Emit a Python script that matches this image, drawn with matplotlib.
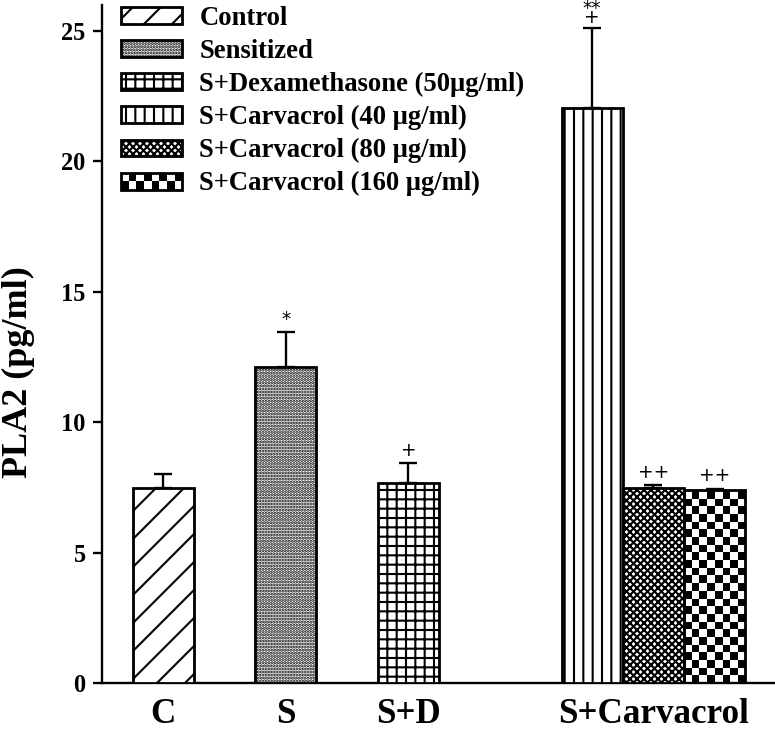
import numpy as np
import matplotlib
matplotlib.use("Agg")
import matplotlib.pyplot as plt
from matplotlib.patches import Rectangle
from matplotlib.legend_handler import HandlerPatch

# values
groups = ["Control", "Sensitized", "S+Dexamethasone (50\u03bcg/ml)",
          "S+Carvacrol (40 \u03bcg/ml)", "S+Carvacrol (80 \u03bcg/ml)",
          "S+Carvacrol (160 \u03bcg/ml)"]
means = [7.48, 12.13, 7.67, 22.06, 7.49, 7.40]
sems = [0.53, 1.32, 0.75, 3.04, 0.10, 0.05]
positions = [0, 2, 4, 7, 8, 9]
marks = ["", "*", "+", "**\n+", "++", "++"]
tick_pos = [0, 2, 4, 8]
tick_labels = ["C", "S", "S+D", "S+Carvacrol"]

hatches = ["//", ".........", "+++", "|||", "xxxxxxxx", None]

plt.rcParams["hatch.linewidth"] = 0.9
serif = "Liberation Serif"
DPI = 168


class HandlerChecker(HandlerPatch):
    def create_artists(self, legend, orig_handle, xdescent, ydescent,
                       width, height, fontsize, trans):
        arts = [Rectangle((-xdescent, -ydescent), width, height,
                          facecolor="white", edgecolor="none", transform=trans)]
        nx, ny = 8, 2
        cw, ch = width / nx, height / ny
        for i in range(nx):
            for j in range(ny):
                if (i + j) % 2 == 0:
                    arts.append(Rectangle((-xdescent + i * cw, -ydescent + j * ch),
                                          cw, ch, facecolor="black", lw=0,
                                          transform=trans))
        arts.append(Rectangle((-xdescent, -ydescent), width, height,
                              facecolor="none", edgecolor="black", lw=1.2,
                              transform=trans))
        return arts


fig = plt.figure(figsize=(776 / DPI, 730 / DPI), dpi=DPI)
ax = fig.add_axes([102 / 776, 47 / 730, 1 - 102 / 776, 678 / 730])

bars = []
for x, m, h in zip(positions, means, hatches):
    if h is None:
        b = ax.bar(x, m, width=1.0, facecolor="none", edgecolor="black",
                   lw=1.2, zorder=3)
    else:
        b = ax.bar(x, m, width=1.0, facecolor="white", edgecolor="black",
                   hatch=h, lw=1.2, zorder=3)
    bars.append(b[0])

ax.errorbar(positions, means, yerr=[np.zeros(len(means)), sems], fmt="none",
            ecolor="black", elinewidth=1.0, capsize=4, capthick=1.0, zorder=4)

ax.set_xlim(-1, 10)
ax.set_ylim(0, 26)

# checkerboard fill for the last bar
chk = bars[-1]
x0, w, hgt = chk.get_x(), chk.get_width(), chk.get_height()
p0 = ax.transData.transform((0, 0))
p1 = ax.transData.transform((1, 1))
px_x, px_y = p1[0] - p0[0], p1[1] - p0[1]
cols = 8
cell = w * px_x / cols
rows = int(round(hgt * px_y / cell))
board = np.indices((rows, cols)).sum(axis=0) % 2
im = ax.imshow(board, cmap="gray_r", extent=(x0, x0 + w, 0, rows * cell / px_y),
               origin="lower", aspect="auto", interpolation="nearest", zorder=2)
im.set_clip_path(chk)
ax.set_xlim(-1, 10)
ax.set_ylim(0, 26)

# significance marks, stacked line by line above the error bar
for x, m, s, t in zip(positions, means, sems, marks):
    lines = t.split("\n")[::-1] if t else []
    base = 1.5 if len(lines) == 1 else 0.5
    for k, line in enumerate(lines):
        ax.annotate(line, (x, m + s), xytext=(0, base + 4.0 * k),
                    textcoords="offset points", ha="center", va="bottom",
                    fontsize=8, family="DejaVu Sans")

ax.spines["top"].set_visible(False)
ax.spines["right"].set_visible(False)
for sp in ("left", "bottom"):
    ax.spines[sp].set_linewidth(1.0)

ax.set_yticks([0, 5, 10, 15, 20, 25])
ax.tick_params(axis="y", length=4, width=1.0, pad=3, labelsize=10.5)
ax.set_xticks(tick_pos)
ax.set_xticklabels(tick_labels)
ax.tick_params(axis="x", length=0, pad=6.5, labelsize=15)
for lab in ax.get_xticklabels() + ax.get_yticklabels():
    lab.set_fontfamily(serif)
    lab.set_fontweight("bold")

ax.set_ylabel("PLA2 (pg/ml)", fontsize=15.5, fontweight="bold", family=serif)
ax.yaxis.set_label_coords(-0.1, 0.459)

handles = []
for h in hatches:
    if h is None:
        handles.append(Rectangle((0, 0), 1, 1, facecolor="white", edgecolor="black"))
    else:
        handles.append(Rectangle((0, 0), 1, 1, facecolor="white", edgecolor="black",
                                 hatch=h, lw=1.2))
leg = ax.legend(handles, groups, loc="upper left",
                bbox_to_anchor=(121 / 776, 1 - 6 / 730),
                bbox_transform=fig.transFigure, frameon=False,
                prop={"family": serif, "weight": "bold", "size": 11.4},
                handlelength=2.3, handleheight=0.6, handletextpad=0.65,
                labelspacing=0.3, borderaxespad=0, borderpad=0,
                handler_map={handles[-1]: HandlerChecker()})

fig.savefig("out.png", dpi=DPI)
